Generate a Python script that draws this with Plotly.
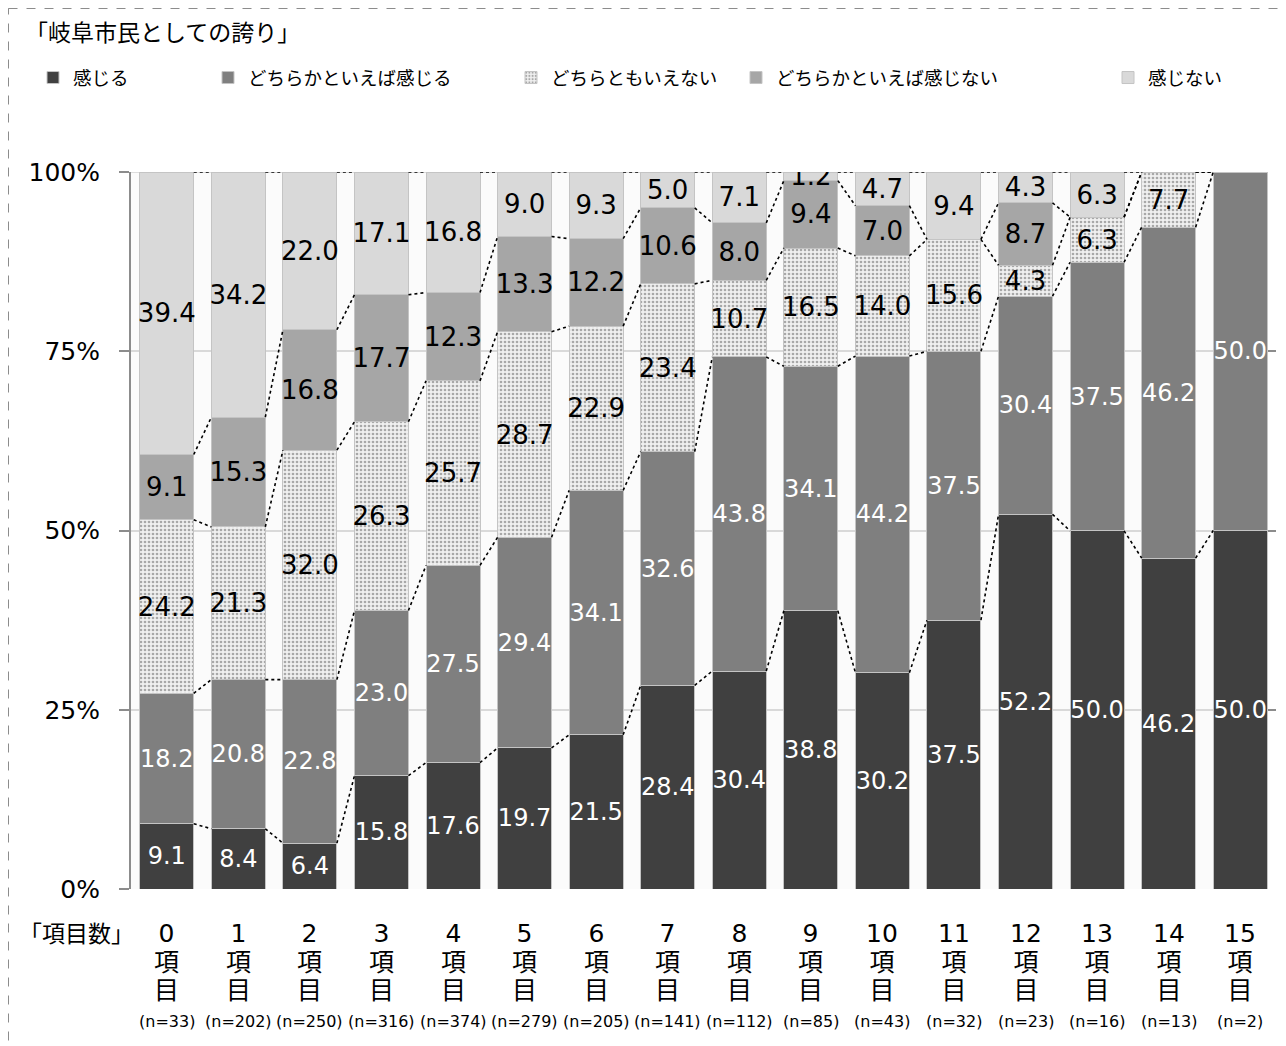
import plotly.graph_objects as go
import numpy as np

# ---------------- data ----------------
categories = [str(i) for i in range(16)]
category_unit = ["項", "目"]
n_counts = [33, 202, 250, 316, 374, 279, 205, 141, 112, 85, 43, 32, 23, 16, 13, 2]

series_names = ["感じる", "どちらかといえば感じる", "どちらともいえない",
                "どちらかといえば感じない", "感じない"]
kanjiru = [9.1, 8.4, 6.4, 15.8, 17.6, 19.7, 21.5, 28.4, 30.4, 38.8, 30.2, 37.5, 52.2, 50.0, 46.2, 50.0]
dochiraka_kanjiru = [18.2, 20.8, 22.8, 23.0, 27.5, 29.4, 34.1, 32.6, 43.8, 34.1, 44.2, 37.5, 30.4, 37.5, 46.2, 50.0]
dochiratomo = [24.2, 21.3, 32.0, 26.3, 25.7, 28.7, 22.9, 23.4, 10.7, 16.5, 14.0, 15.6, 4.3, 6.3, 7.7, 0]
dochiraka_kanjinai = [9.1, 15.3, 16.8, 17.7, 12.3, 13.3, 12.2, 10.6, 8.0, 9.4, 7.0, 0, 8.7, 0, 0, 0]
kanjinai = [39.4, 34.2, 22.0, 17.1, 16.8, 9.0, 9.3, 5.0, 7.1, 1.2, 4.7, 9.4, 4.3, 6.3, 0, 0]

title_text = "「岐阜市民としての誇り」"
xaxis_title = "「項目数」"
y_ticks = [0, 25, 50, 75, 100]

# ---------------- styles ----------------
FONT = "DejaVu Sans, Noto Sans CJK JP, sans-serif"
W, H = 1286, 1046
OFF = 8  # page body margin
ML, MR, MT, MB = 123, 18, 164, 165
PW = W - ML - MR
PH = H - MT - MB
BAR_W = 0.754

def px_x(p):
    return (p - OFF - ML) / PW

def px_y(p):
    return (H - MB - (p - OFF)) / PH

colors = ["#404040", "#7f7f7f", "#f0f0f0", "#a6a6a6", "#d9d9d9"]
text_colors = ["white", "white", "black", "black", "black"]
text_sizes = [24, 24, 26, 26, 26]
all_series = [kanjiru, dochiraka_kanjiru, dochiratomo, dochiraka_kanjinai, kanjinai]
legend_text_px = [75, 250, 553, 778, 1150]

x = np.arange(len(categories))
fig = go.Figure()

# light pillars between bars
gap_x = np.arange(-1, len(categories) - 1) + 0.5
fig.add_trace(go.Bar(
    x=gap_x, y=[100] * len(gap_x), width=1 - BAR_W,
    marker=dict(color="#fafafa", line=dict(color="#d0d0d0", width=1)),
    opacity=0.7, showlegend=False, hoverinfo="skip"))

for k, (name, vals) in enumerate(zip(series_names, all_series)):
    txt = [f"{v:.1f}" if v > 0 else "" for v in vals]
    marker = dict(color=colors[k], line=dict(color="#c4c4c4", width=1))
    if k == 2:
        marker["pattern"] = dict(shape=".", fgcolor="#a8a8a8", bgcolor="#f0f0f0",
                                 size=4, solidity=0.35, fillmode="replace")
    fig.add_trace(go.Bar(
        x=x, y=vals, width=BAR_W, name=name, marker=marker,
        text=txt, textposition="inside", insidetextanchor="middle",
        textangle=0, constraintext="none",
        insidetextfont=dict(color=text_colors[k], size=text_sizes[k], family=FONT),
        legend="legend" if k == 0 else f"legend{k + 1}",
        hoverinfo="skip"))

# dotted connector lines between the stacked segment tops
arr = np.array(all_series, dtype=float)
cum = np.cumsum(arr, axis=0) / arr.sum(axis=0) * 100
cx, cy = [], []
for k in range(cum.shape[0]):
    for i in range(len(categories) - 1):
        cx += [x[i] + BAR_W / 2, x[i + 1] - BAR_W / 2, None]
        cy += [cum[k, i], cum[k, i + 1], None]
fig.add_trace(go.Scatter(x=cx, y=cy, mode="lines",
                         line=dict(color="black", width=1.6, dash="dot"),
                         showlegend=False, hoverinfo="skip"))

# ---------------- layout ----------------
layout_legends = {}
for k in range(5):
    key = "legend" if k == 0 else f"legend{k + 1}"
    layout_legends[key] = dict(
        x=px_x(legend_text_px[k] - 42), y=px_y(78), xanchor="left", yanchor="middle",
        orientation="h", bgcolor="rgba(0,0,0,0)",
        font=dict(size=18.5, family=FONT, color="black"))

annotations = [
    dict(text=title_text, x=px_x(23), y=px_y(33), xref="paper", yref="paper",
         xanchor="left", yanchor="middle", showarrow=False,
         font=dict(size=23, family=FONT, color="black")),
    dict(text=xaxis_title, x=px_x(17), y=px_y(934), xref="paper", yref="paper",
         xanchor="left", yanchor="middle", showarrow=False,
         font=dict(size=23, family=FONT, color="black")),
]
for i, c in enumerate(categories):
    rows = [c] + category_unit
    label = "<br>".join(f"<span style='font-size:25px'>{t}</span>" for t in rows)
    annotations.append(dict(text=label, x=x[i], y=px_y(962), xref="x", yref="paper",
                            xanchor="center", yanchor="middle", showarrow=False,
                            font=dict(size=22, family=FONT, color="black")))
    annotations.append(dict(text=f"(n={n_counts[i]})", x=x[i], y=px_y(1021), xref="x", yref="paper",
                            xanchor="center", yanchor="middle", showarrow=False,
                            font=dict(size=16, family=FONT, color="black")))

fig.update_layout(
    width=W, height=H,
    margin=dict(l=ML, r=MR, t=MT, b=MB),
    barmode="stack", barnorm="percent",
    plot_bgcolor="white", paper_bgcolor="white",
    font=dict(family=FONT, color="black"),
    showlegend=True,
    annotations=annotations,
    shapes=[dict(type="rect", xref="paper", yref="paper",
                 x0=px_x(8.5), x1=px_x(1300), y0=px_y(8.5), y1=px_y(1060),
                 line=dict(color="#8c8c8c", width=1, dash="dash"),
                 fillcolor="rgba(0,0,0,0)", layer="above")],
    **layout_legends,
)
fig.update_xaxes(
    range=[-0.5, len(categories) - 0.5],
    showticklabels=False,
    ticks="", showline=False, showgrid=False, zeroline=False,
)
fig.update_yaxes(
    range=[0, 100], tickvals=y_ticks, ticktext=[f"{v}%" for v in y_ticks],
    tickfont=dict(size=25, family=FONT, color="black"),
    ticks="outside", ticklen=10, tickcolor="#8c8c8c", tickwidth=2,
    showline=True, linecolor="#8c8c8c", linewidth=2,
    showgrid=True, gridcolor="#8c8c8c", gridwidth=1.5, zeroline=False,
    ticklabelstandoff=14,
)

fig.write_html("out.html")
